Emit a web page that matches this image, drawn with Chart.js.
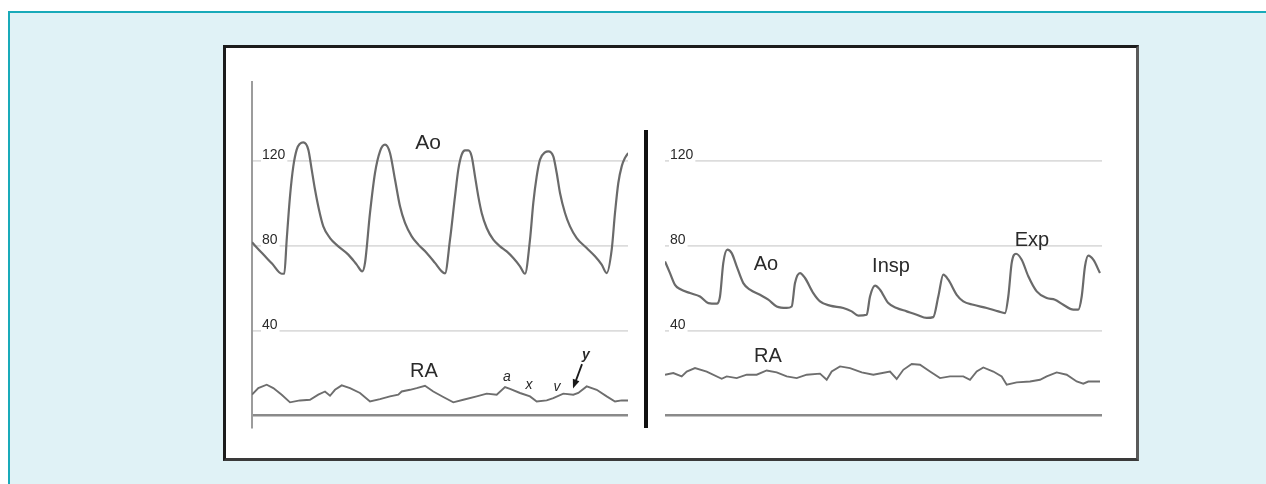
<!DOCTYPE html>
<html>
<head>
<meta charset="utf-8">
<script src="https://cdn.jsdelivr.net/npm/chart.js@4.4.1/dist/chart.umd.min.js"></script>
<style>
  html, body { margin: 0; padding: 0; background: #ffffff; width: 1266px; height: 484px; overflow: hidden; }
  .frame { position: absolute; left: 8px; top: 11px; width: 1300px; height: 500px; background: #e0f2f6;
           border-left: 2px solid #19aab9; border-top: 2px solid #19aab9; }
  .paper { position: absolute; left: 223px; top: 45px; width: 916px; height: 416px; box-sizing: border-box;
           background: #ffffff; border: 3px solid #1c1c1c; border-right-color: #5a5a5a; border-bottom-color: #3a3a3a; }
  .divider { position: absolute; left: 644px; top: 130px; width: 4px; height: 298px; background: #111111; }
  canvas { position: absolute; }
</style>
</head>
<body>
<div class="frame"></div>
<div class="paper"></div>
<canvas id="left" width="396" height="365" style="left:242px;top:72px;"></canvas>
<canvas id="right" width="457" height="365" style="left:655px;top:72px;"></canvas>
<div class="divider"></div>
<script>
// ---- data (time axis: px-like units from panel start; pressure in mmHg) ----
const tickValues = [0, 40, 80, 120];

const leftAoTime = [0, 10, 20, 29.7, 32.3, 34.7, 38, 41.3, 44.7, 48, 51.3, 56.3, 59.7, 63, 67, 71.3, 78, 86.3, 96.3, 104.7,
  110.3, 113, 118, 123, 128, 133, 138, 143, 148, 153, 159.7, 166.3, 174.7, 183, 189.7,
  193, 198, 203, 206.3, 209.7, 213, 216.3, 219.7, 223, 226.3, 229.7, 234.7, 241.3, 248, 254.7, 261.3, 268,
  273, 278, 281.3, 284.7, 288, 293, 296.3, 301.3, 304.7, 308, 313, 318, 324.7, 334.7, 343, 349.7,
  354.7, 359.7, 363, 366.3, 369.7, 373, 376.3];
const leftAoPressure = [81.6, 76.5, 71.6, 66.8, 66.8, 82.8, 103.2, 117.3, 125.2, 128, 128.6, 125.2, 115.8, 106.4, 96.9, 89.1, 83.6, 79.7, 75.8, 71.1,
  67.9, 71.9, 95.4, 114.2, 124.4, 127.5, 123.6, 111.1, 98.5, 90.7, 84.4, 80.5, 76.6, 71.9, 67.9,
  67.0, 82.8, 103.2, 115.8, 122.8, 124.8, 124.8, 122, 112.6, 103.2, 95.4, 88.3, 82.8, 79.7, 77.3, 74.2, 70.3,
  66.8, 82.8, 100.1, 112.6, 120.5, 123.9, 124.4, 122, 114.2, 104.8, 95.4, 89.1, 83.6, 78.9, 75, 71.1,
  67.1, 78.1, 95.4, 109.5, 117.3, 121.3, 123.6];

const leftRaTime = [0, 6.3, 14.7, 21.3, 29.7, 38, 48, 58, 66.3, 73, 78, 83, 89.7, 98, 108, 118, 128, 138, 146.3, 149.7,
  158, 164.7, 173, 181.3, 191.3, 201.3, 211.3, 224.7, 234.7, 244.7, 253, 258, 268, 278, 284.7, 294.7,
  301.3, 311.3, 321.3, 326.3, 334.7, 344.7, 354.7, 363, 369.7, 376.3];
const leftRaPressure = [9.9, 13.0, 14.6, 13.0, 9.9, 6.3, 7.2, 7.5, 9.9, 11.4, 9.4, 12.2, 14.3, 13.0, 10.7, 6.7, 7.8, 9.1, 9.9, 11.4,
  12.2, 13.0, 14.1, 11.4, 8.8, 6.3, 7.5, 9.1, 10.4, 9.9, 13.5, 12.6, 10.7, 9.1, 6.7, 7.2,
  8.3, 10.4, 9.9, 10.7, 13.8, 12.2, 9.1, 6.7, 7.2, 7.2];

const rightAoTime = [0, 5, 10, 15, 25, 35, 43.3, 51.7, 55, 58.3, 62.3, 66.7, 71.7, 78.3, 85, 95, 103.3, 111.7, 121.7, 126.7,
  130, 135, 140, 148.3, 155, 165, 178.3, 186.7, 193.3, 201.7, 205, 210, 215, 223.3, 231.7, 241.7, 251.7,
  261.7, 268.3, 273.3, 278.3, 283.3, 291.7, 298.3, 308.3, 321.7, 333.3, 340, 343.3, 346.7, 351, 356.7,
  363.3, 371.7, 381.7, 390, 398.3, 408.3, 413.3, 416.7, 420, 423.3, 428.3, 435];
const rightAoPressure = [72.6, 67.1, 61.6, 59.6, 57.7, 56.1, 53.0, 52.7, 56.1, 71.9, 78.1, 76.5, 70.3, 62.4, 59.3, 56.9, 54.6, 51.4, 50.7, 51.4,
  62.4, 67.1, 64.8, 57.7, 53.8, 51.8, 50.7, 49.1, 47.1, 47.5, 56.1, 61.2, 59.3, 53.0, 50.7, 49.1, 47.5,
  46.0, 46.4, 56.1, 66.4, 64.0, 56.9, 53.8, 52.2, 50.7, 49.1, 48.3, 56.1, 71.9, 76.2, 73.4,
  65.6, 58.5, 55.4, 54.6, 52.2, 49.9, 49.9, 56.1, 70.3, 75.3, 73.4, 67.1];

const rightRaTime = [0, 8.3, 16.7, 21.7, 30, 41.7, 56.7, 61.7, 71.7, 81.7, 91.7, 101.7, 111.7, 121.7, 131.7, 141.7, 155, 161.7,
  166.7, 175, 185, 196.7, 208.3, 225, 231.7, 238.3, 246.7, 255, 265, 275, 285, 298.3, 305, 311.7, 318.3,
  328.3, 336.7, 341.7, 351.7, 365, 375, 381.7, 391.7, 401.7, 411.7, 418.3, 423.3, 430, 435];
const rightRaPressure = [19.3, 20.1, 18.5, 20.8, 22.4, 20.8, 17.4, 18.5, 17.7, 19.3, 19.3, 21.3, 20.4, 18.5, 17.7, 19.3, 19.8, 16.9,
  20.8, 23.2, 22.4, 20.4, 19.3, 20.8, 17.3, 21.6, 24.3, 24.0, 20.8, 17.7, 18.5, 18.5, 16.9, 20.8, 22.7,
  20.8, 18.5, 14.6, 15.7, 16.1, 16.9, 18.5, 20.4, 19.3, 16.1, 15.1, 16.1, 16.1, 16.1];

// trace labels: text and where they sit (time, pressure)
const leftNotes = [
  { text: 'Ao', x: 176, y: 128, font: '21px "Liberation Sans", Arial, sans-serif' },
  { text: 'RA', x: 172, y: 20.7, font: '20px "Liberation Sans", Arial, sans-serif' },
  { text: 'a', x: 255, y: 18.2, font: 'italic 14px "Liberation Sans", Arial, sans-serif' },
  { text: 'x', x: 277, y: 14.6, font: 'italic 14px "Liberation Sans", Arial, sans-serif' },
  { text: 'v', x: 305, y: 13.6, font: 'italic 14px "Liberation Sans", Arial, sans-serif' },
  { text: 'y', x: 334, y: 28.7, font: 'italic bold 14px "Liberation Sans", Arial, sans-serif' }
];
const rightNotes = [
  { text: 'Ao', x: 101, y: 71.1, font: '20px "Liberation Sans", Arial, sans-serif' },
  { text: 'Insp', x: 226, y: 70.1, font: '20px "Liberation Sans", Arial, sans-serif' },
  { text: 'Exp', x: 367, y: 82.4, font: '20px "Liberation Sans", Arial, sans-serif' },
  { text: 'RA', x: 103, y: 27.8, font: '20px "Liberation Sans", Arial, sans-serif' }
];
const leftArrow = { from: [330, 24.3], to: [321, 12.8] };

function pairs(xs, ys) { return xs.map((x, i) => ({ x: x, y: ys[i] })); }

function notesPlugin(notes, arrow) {
  return {
    id: 'notes',
    afterDatasetsDraw(chart) {
      const ctx = chart.ctx, xs = chart.scales.x, ys = chart.scales.y;
      ctx.save();
      ctx.fillStyle = '#2a2a2a';
      ctx.textAlign = 'center';
      ctx.textBaseline = 'middle';
      notes.forEach(n => {
        ctx.font = n.font;
        ctx.fillText(n.text, xs.getPixelForValue(n.x), ys.getPixelForValue(n.y));
      });
      if (arrow) {
        const x1 = xs.getPixelForValue(arrow.from[0]), y1 = ys.getPixelForValue(arrow.from[1]);
        const x2 = xs.getPixelForValue(arrow.to[0]), y2 = ys.getPixelForValue(arrow.to[1]);
        const ang = Math.atan2(y2 - y1, x2 - x1);
        ctx.strokeStyle = '#1a1a1a';
        ctx.lineWidth = 1.8;
        ctx.beginPath(); ctx.moveTo(x1, y1); ctx.lineTo(x2 - 5 * Math.cos(ang), y2 - 5 * Math.sin(ang)); ctx.stroke();
        ctx.fillStyle = '#1a1a1a';
        ctx.beginPath();
        ctx.moveTo(x2, y2);
        ctx.lineTo(x2 - 9 * Math.cos(ang) + 3.5 * Math.sin(ang), y2 - 9 * Math.sin(ang) - 3.5 * Math.cos(ang));
        ctx.lineTo(x2 - 9 * Math.cos(ang) - 3.5 * Math.sin(ang), y2 - 9 * Math.sin(ang) + 3.5 * Math.cos(ang));
        ctx.closePath(); ctx.fill();
      }
      ctx.restore();
    }
  };
}

function yScale(showBorder, pad) {
  return {
    min: -5.3, max: 157, bounds: 'data',
    afterBuildTicks: s => { s.ticks = tickValues.map(v => ({ value: v })); },
    afterFit: s => { s.width = 0; s.paddingTop = 0; s.paddingBottom = 0; },
    border: { display: showBorder, color: '#9c9c9c', width: 2 },
    grid: {
      drawTicks: false,
      color: c => (c.tick && c.tick.value === 0) ? '#8a8a8a' : '#dcdcdc',
      lineWidth: c => (c.tick && c.tick.value === 0) ? 2.5 : 1.8
    },
    ticks: {
      mirror: true, padding: pad, labelOffset: -6,
      color: '#2a2a2a',
      font: { family: '"Liberation Sans", Arial, sans-serif', size: 14 },
      callback: v => v === 0 ? '' : String(v),
      showLabelBackdrop: true,
      backdropColor: c => (c.tick && c.tick.value === 0) ? 'rgba(0,0,0,0)' : '#ffffff',
      backdropPadding: { top: 0, bottom: 1, left: 1, right: 2 }
    }
  };
}

function makeChart(id, xMax, ao, ra, notes, arrow, showBorder, pad) {
  return new Chart(document.getElementById(id), {
    type: 'line',
    data: {
      datasets: [
        { data: ao, borderColor: '#6a6a6a', borderWidth: 2.2, pointRadius: 0, cubicInterpolationMode: 'monotone', fill: false },
        { data: ra, borderColor: '#6e6e6e', borderWidth: 1.9, pointRadius: 0, tension: 0, fill: false }
      ]
    },
    options: {
      responsive: false, animation: false, devicePixelRatio: 1,
      layout: { padding: { left: 10, right: 10, top: 10, bottom: 10 } },
      plugins: { legend: { display: false }, tooltip: { enabled: false } },
      scales: {
        x: { type: 'linear', min: 0, max: xMax, display: false },
        y: yScale(showBorder, pad)
      }
    },
    plugins: [notesPlugin(notes, arrow)]
  });
}

makeChart('left', 376, pairs(leftAoTime, leftAoPressure), pairs(leftRaTime, leftRaPressure), leftNotes, leftArrow, true, 10);
makeChart('right', 437, pairs(rightAoTime, rightAoPressure), pairs(rightRaTime, rightRaPressure), rightNotes, null, false, 5);
</script>
</body>
</html>
